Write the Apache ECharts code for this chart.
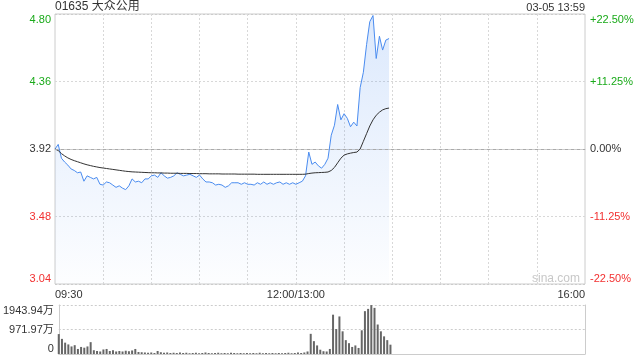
<!DOCTYPE html>
<html><head><meta charset="utf-8">
<script src="https://cdn.jsdelivr.net/npm/echarts@6/dist/echarts.min.js"></script>
<style>html,body{margin:0;padding:0;background:#fff}#c{width:640px;height:360px}</style>
</head><body><div id="c"></div>
<script>
const stockTitle = '01635 大众公用';
const timeStamp = '03-05 13:59';
const prevClose = 3.92;
const priceMin = 3.04, priceMax = 4.80, priceStep = 0.44;
const pctMin = -22.5, pctMax = 22.5, pctStep = 11.25;
const volMax = 1943.94, volStep = 971.97;
const xTickLabels = ['09:30', '12:00/13:00', '16:00'];

// 2-minute samples, 09:30 ... 13:58
const price = [
  3.92, 3.95, 3.86, 3.835, 3.815, 3.79, 3.78, 3.765, 3.77, 3.71,
  3.745, 3.735, 3.725, 3.735, 3.69, 3.685, 3.705, 3.70, 3.685, 3.67,
  3.68, 3.665, 3.655, 3.68, 3.725, 3.705, 3.71, 3.70, 3.725, 3.725,
  3.745, 3.75, 3.735, 3.765, 3.745, 3.73, 3.735, 3.745, 3.765, 3.755,
  3.745, 3.75, 3.755, 3.745, 3.735, 3.75, 3.725, 3.705, 3.705, 3.70,
  3.685, 3.69, 3.685, 3.67, 3.68, 3.70, 3.70, 3.70, 3.69, 3.70,
  3.69, 3.69, 3.685, 3.70, 3.69, 3.705, 3.69, 3.70, 3.69, 3.70,
  3.705, 3.69, 3.70, 3.69, 3.70, 3.69,
  3.70, 3.71, 3.745, 3.90, 3.82, 3.835, 3.81, 3.795, 3.82, 3.86,
  4.01, 4.075, 4.21, 4.11, 4.15, 4.12, 4.065, 4.095, 4.07, 4.32,
  4.42, 4.60, 4.75, 4.79, 4.51, 4.655, 4.565, 4.63, 4.64
];
const avgPrice = [
  3.92, 3.91, 3.89, 3.875, 3.862, 3.852, 3.844, 3.837, 3.83, 3.823,
  3.817, 3.812, 3.807, 3.803, 3.799, 3.796, 3.793, 3.79, 3.787, 3.784,
  3.781, 3.778, 3.775, 3.773, 3.771, 3.77, 3.769, 3.768, 3.767, 3.766,
  3.765, 3.765, 3.764, 3.764, 3.763, 3.763, 3.762, 3.762, 3.762, 3.761,
  3.761, 3.761, 3.760, 3.760, 3.760, 3.759, 3.759, 3.759, 3.758, 3.758,
  3.758, 3.758, 3.757, 3.757, 3.757, 3.757, 3.757, 3.756, 3.756, 3.756,
  3.756, 3.756, 3.756, 3.755, 3.755, 3.755, 3.755, 3.755, 3.755, 3.755,
  3.755, 3.755, 3.755, 3.755, 3.755, 3.755,
  3.755, 3.755, 3.756, 3.76, 3.763, 3.765, 3.766, 3.767, 3.768, 3.77,
  3.78, 3.80, 3.83, 3.86, 3.88, 3.888, 3.893, 3.897, 3.90, 3.92,
  3.97, 4.02, 4.07, 4.11, 4.14, 4.16, 4.175, 4.183, 4.187
];
// volume in 万
const volume = [
  790, 600, 450, 380, 300, 350, 200, 280, 250, 300,
  470, 150, 120, 100, 180, 200, 120, 150, 100, 120,
  100, 130, 110, 140, 200, 80, 70, 60, 50, 60,
  40, 120, 70, 50, 60, 40, 50, 40, 60, 40,
  50, 30, 40, 50, 30, 40, 60, 40, 30, 40,
  50, 30, 40, 30, 50, 40, 30, 40, 30, 40,
  30, 40, 30, 50, 30, 40, 30, 40, 30, 40,
  30, 40, 50, 30, 40, 60,
  40, 60, 100, 800, 510, 340, 170, 110, 100, 200,
  1560, 990, 1490, 900, 550, 430, 280, 340, 240, 940,
  1700, 1790, 1940, 1830, 1170, 900, 700, 550, 370
];

// time axis: 2-minute slots, 09:30-12:00 then 13:00-16:00
const categories = [];
const pad = n => (n < 10 ? '0' : '') + n;
for (let i = 0; i <= 165; i++) {
  const m = i <= 75 ? 570 + 2 * i : 780 + 2 * (i - 75);
  categories.push(pad(Math.floor(m / 60)) + ':' + pad(m % 60));
}
categories[0] = xTickLabels[0];
categories[75] = xTickLabels[1];
categories[165] = xTickLabels[2];

const FONT = 'Liberation Sans, Arial, sans-serif';
const GREEN = '#1aaa1a', RED = '#f23030', DARK = '#333';
const isTickLabel = i => i === 0 || i === 75 || i === 165;

const chart = echarts.init(document.getElementById('c'), null, {renderer: 'canvas'});
chart.setOption({
  animation: false,
  backgroundColor: '#fff',
  title: [
    {text: stockTitle, left: 53, top: 0, padding: [1, 2], textStyle: {fontSize: 12, fontWeight: 'normal', color: DARK, fontFamily: FONT + ', Noto Sans CJK SC'}},
    {text: timeStamp, right: 53, top: 0, padding: [2, 2], textStyle: {fontSize: 11, fontWeight: 'normal', color: DARK, fontFamily: FONT}}
  ],
  graphic: [{type: 'text', left: 532, top: 273, silent: true,
    style: {text: 'sina.com', fill: '#c8c8c8', font: '12px ' + FONT}}],
  grid: [
    {left: 55, right: 55, top: 14, height: 270, show: true, borderColor: '#ccc', borderWidth: 1, backgroundColor: 'transparent'},
    {left: 55, right: 55, top: 305, height: 49, show: false}
  ],
  xAxis: [
    {type: 'category', gridIndex: 0, data: categories, boundaryGap: false,
     axisLine: {show: true, lineStyle: {color: '#ccc'}}, axisTick: {show: false},
     axisLabel: {interval: i => isTickLabel(i), margin: 5, color: DARK, fontSize: 11, fontFamily: FONT,
       showMinLabel: true, showMaxLabel: true, alignMinLabel: 'left', alignMaxLabel: 'right'},
     splitLine: {show: true, interval: i => i > 0 && i < 165 && i % 15 === 0, lineStyle: {color: '#d8d8d8', type: [2, 2]}}},
    {type: 'category', gridIndex: 1, data: categories, boundaryGap: false,
     axisLine: {show: true, lineStyle: {color: '#ccc'}}, axisTick: {show: false},
     axisLabel: {show: false}, splitLine: {show: false}}
  ],
  yAxis: [
    {type: 'value', gridIndex: 0, min: priceMin, max: priceMax, interval: priceStep, position: 'left',
     axisLine: {show: false}, axisTick: {show: false},
     axisLabel: {margin: 4, fontSize: 11, fontFamily: FONT,
       formatter: v => v.toFixed(2),
       color: v => (v > prevClose + 1e-6 ? GREEN : v < prevClose - 1e-6 ? RED : DARK),
       verticalAlignMaxLabel: 'top', verticalAlignMinLabel: 'bottom'},
     splitLine: {show: true, lineStyle: {color: ['#ccc', '#d8d8d8', 'rgba(0,0,0,0)', '#d8d8d8', '#ccc'], type: [2, 2]}}},
    {type: 'value', gridIndex: 0, min: pctMin, max: pctMax, interval: pctStep, position: 'right',
     axisLine: {show: false}, axisTick: {show: false}, splitLine: {show: false},
     axisLabel: {margin: 5, fontSize: 11, fontFamily: FONT,
       formatter: v => (v > 0 ? '+' : '') + v.toFixed(2) + '%',
       color: v => (v > 1e-6 ? GREEN : v < -1e-6 ? RED : DARK),
       verticalAlignMaxLabel: 'top', verticalAlignMinLabel: 'bottom'}},
    {type: 'value', gridIndex: 1, min: 0, max: volMax, interval: volStep, position: 'left',
     axisLine: {show: true, lineStyle: {color: '#ccc'}}, axisTick: {show: false},
     axisLabel: {margin: 5, fontSize: 11, fontFamily: FONT + ', Noto Sans CJK SC', color: DARK,
       formatter: v => (v === 0 ? '0' : v.toFixed(2) + '万'),
       verticalAlignMaxLabel: 'top', verticalAlignMinLabel: 'bottom'},
     splitLine: {show: true, lineStyle: {color: '#ccc', type: [2, 2]}}},
    {type: 'value', gridIndex: 1, min: 0, max: volMax, interval: volStep, position: 'right',
     axisLine: {show: true, lineStyle: {color: '#ccc'}}, axisTick: {show: false},
     axisLabel: {show: false}, splitLine: {show: false}}
  ],
  series: [
    {name: 'price', type: 'line', xAxisIndex: 0, yAxisIndex: 0, data: price,
     showSymbol: false, symbol: 'none', lineStyle: {color: '#4a8cf0', width: 1},
     areaStyle: {origin: 'start', color: new echarts.graphic.LinearGradient(0, 0, 0, 1, [
       {offset: 0, color: 'rgba(74,140,240,0.28)'}, {offset: 1, color: 'rgba(74,140,240,0.02)'}])},
     markLine: {silent: true, symbol: ['none', 'none'], label: {show: false},
       lineStyle: {color: '#aaa', type: [3, 3], width: 1}, data: [{yAxis: prevClose}]}},
    {name: 'avg', type: 'line', xAxisIndex: 0, yAxisIndex: 0, data: avgPrice,
     showSymbol: false, symbol: 'none', lineStyle: {color: '#333', width: 1}},
    {name: 'volume', type: 'bar', xAxisIndex: 1, yAxisIndex: 2, data: volume,
     barWidth: 2, itemStyle: {color: '#666'}}
  ]
});
</script></body></html>
